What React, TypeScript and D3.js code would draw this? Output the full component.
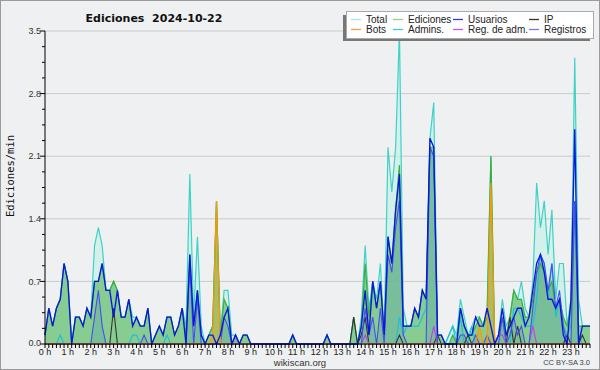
import React from "react";
import * as d3 from "d3";

// 10-minute slots, 0:00 .. 23:50 (values in edits/min)
const hours = d3.range(24);
const total = [
  0.1,0.4,0.2,0.4,0.5,0.9, 0.7,0,0.3,0.3,0.2,0.4, 0.3,1.1,1.3,1.1,0.6,0.6, 0.7,0.6,0.3,0.3,0.5,0.3,
  0.3,0.2,0.2,0.4,0,0.1, 0.2,0.1,0.3,0.3,0.1,0.2, 0.4,0.2,1.9,0.3,1.2,0.2, 0,0.1,0.2,1.6,0.1,0.6,
  0.6,0.1,0.1,0,0.1,0.1, 0,0,0,0,0,0, 0,0,0,0,0,0.1, 0,0,0,0,0,0,
  0,0,0.1,0,0,0, 0,0,0,0.3,0,0.3, 1.1,0.4,0.7,0.5,0.9,0.1, 2.2,1.7,2.2,3.5,0.4,0.2,
  0.2,0.4,0.3,0.6,0.5,2.3, 2.7,0.1,0.1,0,0.1,0.2, 0.1,0.5,0.3,0.1,0.2,0.3, 0.3,0.2,0.4,2.1,0,0.1,
  0.5,0.2,0.3,0.6,0.5,0.7, 0.4,0.3,0.7,1.8,1.3,1.6, 1.0,1.5,0.5,0.9,0.9,0.2, 0.5,3.2,0.5,0.2,0.2,0.2,
];
const ediciones = [
  0.1,0.4,0.2,0.4,0.5,0.9, 0.7,0,0.3,0.3,0.2,0.4, 0.3,0.7,0.7,0.9,0.6,0.6, 0.7,0.6,0.3,0.3,0.5,0.2,
  0.3,0.2,0.2,0.4,0,0.1, 0.2,0.1,0.3,0.3,0.1,0.2, 0.4,0.1,1.0,0.2,0.6,0.1, 0,0.1,0.2,1.6,0.1,0.5,
  0.4,0,0.1,0,0.1,0.1, 0,0,0,0,0,0, 0,0,0,0,0,0.1, 0,0,0,0,0,0,
  0,0,0.1,0,0,0, 0,0,0,0.3,0,0.2, 0.9,0.3,0.7,0.4,0.7,0.1, 1.2,0.9,1.5,2.0,0.2,0.2,
  0.2,0.4,0.3,0.6,0.5,2.2, 2.2,0.1,0.1,0,0,0.1, 0,0.4,0.2,0.1,0.1,0.2, 0.3,0.2,0.3,2.1,0,0.1,
  0.3,0.1,0.3,0.6,0.5,0.5, 0.3,0.3,0.5,0.8,0.9,0.8, 0.6,0.7,0.4,0.5,0.3,0.2, 0.4,1.6,0.2,0.2,0.2,0.2,
];
const usuarios = [
  0.1,0.4,0.2,0.4,0.5,0.9, 0.7,0,0.3,0.3,0.2,0.4, 0.3,0.7,0.7,0.9,0.6,0.6, 0.3,0.6,0.3,0.3,0.5,0.2,
  0.3,0.2,0.2,0.4,0,0.1, 0.2,0.1,0.3,0.3,0.1,0.2, 0.4,0,1.0,0.2,0.6,0.1, 0,0.1,0.1,0,0.1,0.3,
  0.4,0,0.1,0,0.1,0.1, 0,0,0,0,0,0, 0,0,0,0,0,0.1, 0,0,0,0,0,0,
  0,0,0.1,0,0,0, 0,0,0,0,0,0.2, 0.6,0.1,0.7,0.4,0.7,0.1, 1.2,0.9,1.5,1.9,0.2,0.2,
  0.2,0.4,0.3,0.6,0.5,2.3, 2.2,0.1,0.1,0,0,0, 0,0.4,0.2,0.1,0.1,0.3, 0.2,0.2,0.4,0.2,0,0.1,
  0.4,0.1,0.2,0.3,0.4,0.4, 0.2,0.3,0.6,0.9,1.0,0.8, 0.5,0.5,0.4,0.5,0.1,0, 0.5,2.4,0,0.2,0.2,0.2,
];
const ip = [
  0,0,0,0,0,0, 0,0,0,0,0,0, 0,0,0,0,0,0, 0.4,0,0,0,0,0,
  0,0,0,0,0,0, 0,0,0,0,0,0, 0,0,0,0,0,0, 0,0,0,0,0,0,
  0,0,0,0,0,0, 0,0,0,0,0,0, 0,0,0,0,0,0, 0,0,0,0,0,0,
  0,0,0,0,0,0, 0,0,0,0.3,0,0.1, 0.3,0,0,0,0,0, 0,0,0,0.1,0,0,
  0,0,0,0,0,0, 0,0.1,0,0,0,0, 0,0,0,0.1,0,0, 0,0,0,0,0,0,
  0,0,0.3,0,0.2,0, 0,0,0,0,0,0, 0,0,0,0,0,0.1, 0,0,0,0.1,0,0,
];
const bots = [
  0,0,0,0,0,0, 0,0,0,0,0,0, 0,0,0,0,0,0, 0,0,0,0,0,0,
  0,0,0,0,0,0, 0,0,0,0,0,0, 0,0,0,0,0,0, 0,0,0.1,1.6,0,0,
  0,0,0,0,0,0, 0,0,0,0,0,0, 0,0,0,0,0,0, 0,0,0,0,0,0,
  0,0,0,0,0,0, 0,0,0,0,0,0, 0,0,0,0,0,0, 0,0,0,0,0,0,
  0,0,0,0,0,0, 0,0,0,0,0,0, 0,0,0,0,0,0, 0.2,0,0,1.8,0,0,
  0,0,0,0,0,0, 0,0,0,0,0,0, 0,0,0,0,0,0, 0,0,0,0,0,0,
];
const admins = [
  0,0,0,0,0.1,0, 0,0,0,0,0,0, 0,0,0,0,0,0, 0,0,0,0,0,0.1,
  0.1,0,0,0,0,0, 0,0,0.1,0,0,0, 0,0,0,0,0,0, 0,0,0,0,0,0,
  0,0,0,0,0,0, 0,0,0,0,0,0, 0,0,0,0,0,0, 0,0,0,0,0,0,
  0,0,0,0,0,0, 0,0,0,0,0,0, 0,0,0,0,0,0, 0,0,0,0.3,0.1,0.2,
  0.2,0.2,0.2,0.3,0.4,2.2, 2.1,0,0,0,0.1,0.2, 0,0.3,0,0,0.2,0, 0,0,0,0,0,0,
  0,0,0,0.4,0.4,0.3, 0.2,0.2,0.2,0.5,1.0,0.9, 0.5,0.9,0.3,0.5,0.2,0.1, 0.2,1.6,0.1,0,0,0,
];
const regAdm = [
  0,0,0,0,0,0, 0,0,0,0,0,0, 0,0,0,0,0,0, 0,0,0,0,0,0,
  0,0,0,0,0,0, 0,0,0,0,0,0, 0,0,0,0,0,0, 0,0,0,0,0,0,
  0,0,0,0,0,0, 0,0,0,0,0,0, 0,0,0,0,0,0, 0,0,0,0,0,0,
  0,0,0,0,0,0, 0,0,0,0,0,0, 0.1,0,0,0,0,0, 0,0,0,0,0,0,
  0,0,0,0,0,0, 0.2,0,0,0,0,0, 0,0,0,0,0,0, 0,0,0,0,0,0.1,
  0.1,0,0,0,0,0, 0,0,0.2,0,0,0, 0,0,0,0,0,0, 0,0,0,0,0,0,
];
const registros = [
  0,0,0,0,0,0, 0,0,0,0,0,0, 0,0.3,0.6,0.2,0,0, 0,0,0,0,0,0,
  0,0,0.1,0,0,0, 0,0,0,0,0,0, 0,0,0.9,0,0.5,0, 0,0,0,0,0,0.3,
  0.2,0,0.1,0,0,0, 0,0,0,0,0,0, 0,0,0,0,0,0, 0,0,0,0,0,0,
  0,0,0,0,0,0, 0,0,0,0,0,0, 0.4,0.1,0.3,0,0.4,0, 1.0,0.8,1.3,1.6,0.1,0,
  0,0,0,0,0,2.2, 2.1,0,0,0,0,0, 0,0.1,0.1,0,0,0.1, 0,0,0.1,0,0,0,
  0.3,0,0.1,0.3,0.1,0.2, 0,0,0.4,0.8,1.0,0.9, 0.6,0.9,0.4,0.6,0.2,0, 0,1.6,0,0,0,0,
];
const yTicks = [0, 0.7, 1.4, 2.1, 2.8, 3.5];
const legendItems = [
  { name: "Total", color: "#a8e6e2" },
  { name: "Ediciones", color: "#8fd08f" },
  { name: "Usuarios", color: "#3838e8" },
  { name: "IP", color: "#333333" },
  { name: "Bots", color: "#f5a040" },
  { name: "Admins.", color: "#40c8d8" },
  { name: "Reg. de adm.", color: "#d050e8" },
  { name: "Registros", color: "#7878f0" },
];

const W = 600, H = 370;
const L = 45, R = 590, T = 31, B = 344;

export default function App() {
  const n = total.length;
  const x = d3.scaleLinear().domain([0, n - 1]).range([L, R]);
  const y = d3.scaleLinear().domain([0, 3.5]).range([B, T]);
  const idx = d3.range(n);
  const area = (arr: number[]) =>
    d3.area<number>().x((i) => x(i)).y0(y(0)).y1((i) => y(arr[i]))(idx) || "";
  const line = (arr: number[]) =>
    d3.line<number>().x((i) => x(i)).y((i) => y(arr[i]))(idx) || "";
  const minorY = d3.range(0, 3.5 + 1e-9, 0.175);
  const font = "'Liberation Sans', Arial, sans-serif";
  const colX = [351, 393, 453, 529];
  return (
    <svg width={W} height={H} style={{ position: "absolute", left: 0, top: 0 }}>
      <rect x={0} y={0} width={W} height={H} fill="#eff0f1" />
      <rect x={0.5} y={0.5} width={W - 1} height={H - 1} fill="none" stroke="#9a9a9a" />
      {yTicks.slice(1).map((t) => (
        <line key={t} x1={L} x2={R} y1={y(t)} y2={y(t)} stroke="#cacaca" />
      ))}
      <path d={area(total)} fill="rgba(195,240,232,0.65)" />
      <path d={area(ediciones)} fill="rgba(72,176,72,0.55)" />
      <path d={area(registros)} fill="rgba(50,110,200,0.16)" />
      <path d={area(bots)} fill="rgba(255,150,0,0.3)" />
      <path d={line(total)} fill="none" stroke="#3ed2c6" strokeWidth={1.2} />
      <path d={line(admins)} fill="none" stroke="#1ebfdc" strokeWidth={1.2} />
      <path d={line(ediciones)} fill="none" stroke="#3cae3c" strokeWidth={1.2} />
      <path d={line(ip)} fill="none" stroke="#333" strokeWidth={1.1} />
      <path d={line(regAdm)} fill="none" stroke="#c040e0" strokeWidth={1.1} />
      <path d={line(registros)} fill="none" stroke="#4a4cf0" strokeWidth={1.1} />
      <path d={line(bots)} fill="none" stroke="#ff9800" strokeWidth={1.2} />
      <path d={line(usuarios)} fill="none" stroke="#0a18dc" strokeWidth={1.35} />
      {/* axes */}
      <line x1={L} x2={L} y1={T} y2={B} stroke="#000" />
      <line x1={L} x2={R} y1={B} y2={B} stroke="#000" />
      {minorY.map((t, k) => (
        <line key={k} x1={k % 4 === 0 ? L - 5 : L - 3} x2={L} y1={y(t)} y2={y(t)} stroke="#000" />
      ))}
      {yTicks.map((t) => (
        <text key={t} x={41} y={y(t) - (t === 0 ? 1 : 0)} dy="0.35em" textAnchor="end" fontFamily={font} fontSize={9} fill="#333">
          {t.toFixed(1)}
        </text>
      ))}
      {idx.map((i) => (
        <line key={i} x1={x(i)} x2={x(i)} y1={B} y2={B + 4} stroke="#000" />
      ))}
      {hours.map((h) => (
        <text key={h} x={x(h * 6)} y={355} textAnchor="middle" fontFamily={font} fontSize={9} fill="#222">
          {h} h
        </text>
      ))}
      <text x={12} y={0} transform={`translate(14,188) rotate(-90)`} textAnchor="middle"
        fontFamily="'DejaVu Sans Mono', monospace" fontSize={10.5} fill="#111">
        Ediciones/min
      </text>
      <text x={154} y={22} textAnchor="middle" fontFamily="'DejaVu Sans', sans-serif" fontWeight="bold"
        fontSize={11} fill="#111" style={{ whiteSpace: "pre" }}>
        {"Ediciones  2024-10-22"}
      </text>
      <text x={300} y={366} textAnchor="middle" fontFamily={font} fontSize={9.5} fill="#333">wikiscan.org</text>
      <text x={590} y={365} textAnchor="end" fontFamily={font} fontSize={7.5} fill="#444">CC BY-SA 3.0</text>
      {/* legend */}
      <rect x={343} y={15} width={247} height={26} fill="#777" />
      <rect x={346.5} y={11.5} width={247} height={27} fill="#fff" stroke="#aaa" />
      {legendItems.map((it, k) => {
        const col = k % 4, row = Math.floor(k / 4);
        const cy = 19.5 + row * 10;
        return (
          <g key={it.name}>
            <line x1={colX[col]} x2={colX[col] + 10} y1={cy} y2={cy} stroke={it.color} strokeWidth={1.3} />
            <text x={colX[col] + 15} y={cy} dy="0.35em" fontFamily={font} fontSize={10} fill="#222">
              {it.name}
            </text>
          </g>
        );
      })}
    </svg>
  );
}
